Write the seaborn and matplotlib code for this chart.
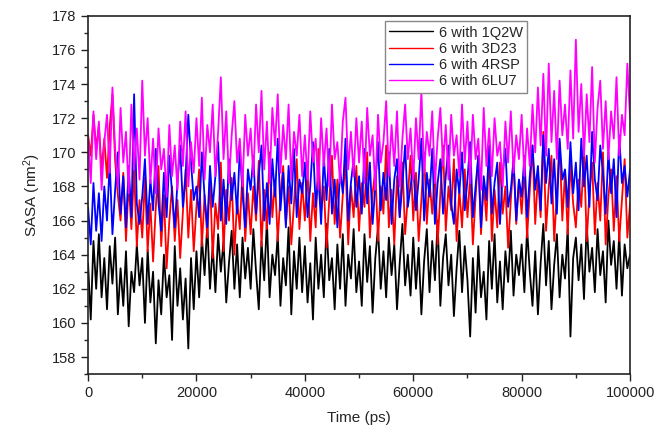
import numpy as np
import pandas as pd
import seaborn as sns
import matplotlib
matplotlib.use("Agg")
import matplotlib.pyplot as plt
from matplotlib.ticker import MultipleLocator

series_names = ["6 with 1Q2W", "6 with 3D23", "6 with 4RSP", "6 with 6LU7"]
series_colors = ["#000000", "#ff0000", "#0000ff", "#ff00ff"]

time_ps = list(range(0, 100001, 500))

sasa_1q2w = [
    163.5, 160.2, 164.8, 162.0, 165.2, 161.5, 163.8, 160.8, 164.5, 162.3, 165.0, 160.5, 163.2, 161.0, 164.2, 159.8, 163.0, 161.8, 164.6, 162.2,
    163.8, 160.0, 164.3, 161.2, 163.0, 158.8, 162.5, 160.5, 164.0, 161.5, 162.8, 159.0, 164.5, 161.0, 163.2, 160.2, 162.6, 158.5, 163.8, 160.8,
    164.2, 161.5, 165.0, 162.8, 165.8, 162.0, 164.5, 161.8, 165.2, 163.0, 164.8, 161.2, 163.5, 165.4, 162.0, 164.6, 161.5, 165.0, 162.6, 164.4,
    162.0, 165.5, 163.0, 160.8, 164.8, 162.5, 166.0, 161.5, 164.0, 162.8, 165.2, 161.0, 163.8, 162.2, 165.6, 160.5, 164.2, 162.0, 165.0, 161.8,
    164.5, 161.2, 163.5, 160.2, 165.0, 162.0, 164.0, 161.5, 165.8, 162.5, 163.8, 160.8, 164.6, 162.0, 165.2, 161.0, 164.0, 162.6, 165.5, 161.8,
    163.6, 161.0, 165.2, 162.4, 164.5, 160.6, 163.8, 165.6, 162.0, 164.2, 161.5, 165.0, 162.8, 164.6, 160.8, 163.5, 165.8, 162.2, 164.0, 161.6,
    165.0, 162.0, 164.4, 160.5, 163.6, 165.5, 161.8, 164.8, 162.5, 166.0, 161.0, 163.8, 165.2, 162.2, 164.0, 160.4, 163.2, 165.4, 161.8, 164.5,
    162.5, 159.2, 163.8, 160.6, 164.5, 161.5, 163.0, 160.2, 164.8, 162.0, 165.2, 161.2, 163.6, 160.8, 164.2, 162.4, 165.4, 161.6, 164.0, 162.8,
    164.6, 161.8, 165.5, 163.0, 161.0, 164.2, 160.5, 163.5, 165.8, 162.2, 164.8, 160.8, 163.4, 165.2, 161.5, 164.0, 162.6, 165.6, 159.2, 163.8,
    165.0, 162.5, 164.6, 161.4, 165.8, 163.0, 164.4, 161.8, 165.5, 162.8, 164.2, 161.2, 166.0, 163.4, 164.8, 162.0, 165.2, 161.6, 164.6, 163.2,
    164.0,
]

sasa_3d23 = [
    171.0, 169.8, 172.2, 170.2, 171.6, 169.0, 170.8, 168.5, 171.5, 173.4, 169.5, 167.5, 166.0, 168.8, 164.8, 168.2, 165.5, 169.0, 164.5, 167.2,
    165.0, 168.5, 164.2, 167.0, 163.6, 166.8, 169.2, 164.5, 167.5, 163.2, 166.0, 168.0, 164.8, 167.2, 163.8, 166.5, 169.0, 165.0, 167.8, 164.2,
    166.8, 169.0, 164.5, 167.5, 165.0, 168.6, 163.8, 167.0, 165.5, 169.4, 164.2, 167.8, 166.0, 168.5, 164.0, 167.2, 165.5, 169.0, 164.8, 167.6,
    165.2, 168.0, 166.0, 169.5, 164.5, 167.8, 165.5, 170.0, 166.2, 168.4, 164.8, 167.5, 169.2, 165.8, 168.0, 164.6, 167.0, 169.6, 165.5, 168.2,
    166.0, 169.0, 164.8, 167.6, 165.6, 170.2, 166.5, 168.0, 164.4, 167.2, 169.8, 165.8, 168.4, 165.0, 167.5, 169.5, 164.6, 168.0, 166.2, 169.2,
    165.4, 168.2, 166.8, 170.0, 165.0, 167.6, 169.0, 164.8, 168.0, 166.4, 170.4, 165.6, 167.8, 164.6, 168.6, 166.2, 169.4, 165.2, 167.4, 169.8,
    166.0, 168.8, 164.8, 167.2, 170.0, 165.8, 168.4, 166.4, 169.2, 164.6, 167.6, 170.4, 165.4, 168.0, 166.6, 169.6, 164.8, 167.8, 165.6, 169.0,
    166.2, 168.6, 164.6, 167.4, 169.8, 165.2, 168.2, 166.0, 170.2, 164.8, 167.8, 165.6, 169.4, 166.4, 168.0, 164.4, 167.2, 169.6, 165.8, 168.4,
    166.4, 169.0, 165.0, 167.8, 170.4, 165.8, 168.6, 166.2, 171.2, 165.4, 168.0, 169.8, 164.8, 167.6, 170.6, 166.0, 168.8, 165.2, 169.4, 167.0,
    165.6, 168.4, 166.8, 170.2, 164.8, 167.6, 169.4, 165.2, 168.2, 166.0, 170.0, 164.6, 167.4, 169.0, 165.4, 168.6, 164.8, 167.2, 169.6, 165.0,
    167.0,
]

sasa_4rsp = [
    166.8, 164.6, 168.2, 165.4, 167.6, 164.8, 168.0, 166.0, 169.4, 165.2, 167.8, 170.0, 166.4, 168.6, 165.6, 169.2, 166.2, 173.4, 167.0, 165.8,
    167.4, 169.6, 165.8, 168.4, 166.6, 170.2, 167.0, 165.4, 168.8, 166.2, 169.8, 167.6, 165.6, 168.2, 170.4, 166.8, 168.6, 172.2, 169.4, 167.2,
    168.0, 166.2, 170.0, 167.4, 165.6, 169.2, 166.8, 168.6, 170.6, 166.0, 168.4, 165.8, 169.6, 167.2, 168.8, 166.4, 170.2, 167.6, 165.6, 169.0,
    167.8, 169.8, 166.4, 168.6, 170.4, 166.0, 168.2, 165.8, 169.6, 167.4, 170.8, 166.6, 168.8, 165.6, 169.2, 167.0, 170.2, 166.2, 168.4, 167.6,
    169.4, 166.2, 168.0, 170.6, 166.8, 168.6, 165.8, 169.8, 167.2, 170.2, 166.4, 168.4, 165.6, 169.0, 167.6, 170.8, 166.0, 168.2, 169.6, 166.8,
    168.6, 166.4, 170.2, 167.0, 169.4, 165.8, 168.0, 170.6, 166.6, 168.8, 167.2, 170.0, 165.8, 168.4, 169.6, 166.2, 168.2, 170.4, 166.8, 168.0,
    169.2, 166.6, 168.4, 170.8, 166.0, 168.8, 167.4, 170.2, 165.8, 168.2, 169.6, 166.4, 168.6, 170.4, 167.0, 165.8, 169.0, 167.6, 170.0, 166.6,
    168.4, 170.6, 166.2, 168.0, 169.8, 165.6, 168.6, 167.2, 170.4, 166.4, 168.2, 169.4, 165.8, 168.8, 170.2, 166.8, 167.8, 169.6, 166.0, 168.4,
    167.4, 169.8, 166.2, 168.6, 170.4, 167.8, 169.2, 166.6, 171.0, 168.2, 170.2, 167.0, 169.6, 166.4, 170.8, 168.4, 169.0, 166.8, 170.6, 167.6,
    169.4, 166.6, 170.8, 168.0, 169.8, 166.8, 171.2, 168.4, 167.2, 170.4, 168.8, 166.4, 170.0, 167.6, 169.6, 166.2, 171.0, 168.2, 169.2, 167.4,
    169.0,
]

sasa_6lu7 = [
    171.0, 168.2, 172.4, 169.6, 171.8, 167.8, 170.6, 172.2, 168.8, 173.8, 170.2, 168.0, 172.6, 169.4, 171.2, 167.6, 172.8, 169.0, 171.4, 168.4,
    174.2, 169.8, 172.0, 168.2, 170.8, 167.6, 171.4, 169.0, 170.2, 167.4, 171.6, 168.6, 170.4, 167.8, 171.8, 169.2, 172.4, 168.0, 170.6, 168.8,
    172.0, 169.2, 173.2, 168.4, 171.6, 170.0, 172.8, 168.6, 171.2, 174.4, 169.6, 172.4, 168.2, 171.0, 173.0, 169.4, 170.8, 168.0, 172.2, 169.8,
    171.4, 168.6, 172.8, 170.0, 173.6, 169.0, 171.8, 168.2, 172.6, 170.4, 173.4, 168.8, 171.6, 169.6, 172.8, 168.4, 171.2, 169.8, 172.2, 168.6,
    171.0, 168.4, 172.4, 169.4, 170.8, 167.8, 172.0, 169.2, 171.4, 168.0, 172.8, 169.6, 170.6, 168.2, 171.8, 173.2, 169.0, 171.2, 168.6, 172.0,
    169.4, 171.8, 168.2, 172.6, 169.8, 171.0, 167.8, 172.2, 169.4, 170.6, 173.0, 168.6, 171.6, 169.2, 172.4, 168.0, 170.8, 172.8, 169.6, 171.4,
    168.4, 172.0, 169.6, 173.6, 168.8, 171.2, 169.8, 172.4, 168.2, 170.8, 172.6, 169.2, 171.6, 168.4, 172.2, 169.8, 171.0, 168.6, 172.8, 169.4,
    171.8, 168.2, 172.2, 169.6, 170.8, 167.8, 172.6, 169.2, 171.4, 168.6, 172.0, 169.8, 170.6, 168.0, 171.8, 169.4, 172.4, 168.8, 171.0, 169.6,
    172.2, 168.6, 171.4, 169.2, 172.8, 170.0, 173.8, 170.4, 174.6, 169.8, 175.2, 170.6, 173.6, 169.6, 174.2, 171.0, 172.8, 170.2, 174.8, 170.8,
    176.6, 171.2, 174.0, 169.8, 173.4, 170.6, 175.0, 169.4, 172.6, 174.2, 170.2, 173.0, 169.6, 172.4, 170.8, 174.4, 169.8, 172.2, 171.0, 175.2,
    172.0,
]

x_ticks = [0, 20000, 40000, 60000, 80000, 100000]
y_ticks = [158, 160, 162, 164, 166, 168, 170, 172, 174, 176, 178]

frames = []
for name, vals in zip(series_names, [sasa_1q2w, sasa_3d23, sasa_4rsp, sasa_6lu7]):
    frames.append(pd.DataFrame({"Time (ps)": time_ps, "SASA": vals, "Series": name}))
df = pd.concat(frames, ignore_index=True)

sns.set_style("ticks")
plt.rcParams["font.family"] = ["Liberation Sans", "DejaVu Sans"]
plt.rcParams["mathtext.default"] = "regular"

fig = plt.figure(figsize=(6.57, 4.28), dpi=100)
ax = fig.add_axes([0.134, 0.126, 0.825, 0.837])

sns.lineplot(data=df, x="Time (ps)", y="SASA", hue="Series",
             palette=dict(zip(series_names, series_colors)),
             hue_order=series_names, estimator=None, sort=False,
             linewidth=1.3, ax=ax, legend=False)

ax.set_xlim(0, 100000)
ax.set_ylim(157, 178)
ax.set_xticks(x_ticks)
ax.set_yticks(y_ticks)
ax.xaxis.set_minor_locator(MultipleLocator(10000))
ax.yaxis.set_minor_locator(MultipleLocator(1))
ax.tick_params(which="major", direction="out", length=5, width=1, labelsize=10.5, colors="#222222")
ax.tick_params(which="minor", direction="out", length=3, width=1)
ax.tick_params(top=False, right=False)
for s in ax.spines.values():
    s.set_visible(True)
    s.set_linewidth(1.2)
    s.set_color("#222222")

ax.set_xlabel("Time (ps)", fontsize=11, labelpad=8)
ax.set_ylabel("SASA (nm$^{2}$)", fontsize=11, labelpad=6)

handles = [plt.Line2D([], [], color=c, lw=1) for c in series_colors]
leg = ax.legend(handles, series_names, loc="upper left", bbox_to_anchor=(0.548, 0.985),
                frameon=True, fancybox=False, edgecolor="#888888", framealpha=1,
                fontsize=10.5, handlelength=3.0, handletextpad=0.4,
                borderpad=0.3, labelspacing=0.15, borderaxespad=0)
leg.get_frame().set_linewidth(1.0)

fig.savefig("out.png", dpi=100)
